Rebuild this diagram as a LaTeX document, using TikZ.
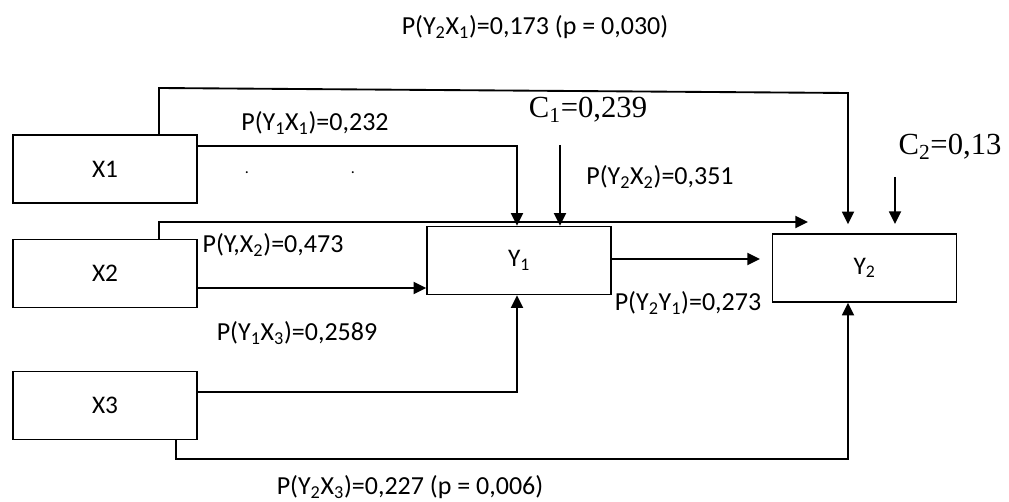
\documentclass[tikz,border=0pt]{standalone}
\usepackage{fontspec}
\setmainfont{Carlito}
\newfontfamily\tnr{Liberation Serif}
\usetikzlibrary{arrows.meta}
\begin{document}
\begin{tikzpicture}[x=0.75pt,y=-0.75pt,
  lab/.style={font=\fontsize{19.5}{21}\selectfont, inner sep=0pt},
  cval/.style={font=\tnr\fontsize{23}{25}\selectfont, inner sep=0pt},
  box/.style={draw, line width=1.2pt, minimum width=138pt, minimum height=51pt, inner sep=0pt, font=\fontsize{19}{21}\selectfont, fill=white},
  conn/.style={line width=1.4pt, -{Triangle[length=9.5pt,width=9pt]}},
  line/.style={line width=1.4pt}]
\useasboundingbox (0,0) rectangle (1009,502);
% boxes
\node[box] (X1) at (105,169) {X1};
\node[box] (X2) at (105,273.5) {X2};
\node[box] (X3) at (105,405.5) {X3};
\node[box] (Y1) at (519,260.5) {Y\textsubscript{1}};
\node[box] (Y2) at (864.5,268) {Y\textsubscript{2}};
% helper coordinates
\coordinate (t1) at (159,88);
\coordinate (t2) at (848,93);
\coordinate (u1) at (159,222);
\coordinate (u2) at (808,222);
\coordinate (c1s) at (560,145);
\coordinate (c2s) at (895,177);
\coordinate (c2e) at (895,224);
\coordinate (y2in) at (760,259);
\coordinate (b1) at (176,459);
% connectors
\draw[conn] (X1.north -| t1) -- (t1) -- (t2) -- ([yshift=6.75pt]Y2.north -| t2);
\draw[conn] (X1.east |- 0,146) -| (Y1.north -| 517,0);
\draw[conn] (c1s) -- (Y1.north -| c1s);
\draw[conn] (X2.north -| u1) -- (u1) -- (u2);
\draw[conn] (X2.east |- 0,288) -- (Y1.west |- 0,288);
\draw[conn] (Y1.east |- y2in) -- (y2in);
\draw[conn] (X3.east |- 0,392) -| (Y1.south -| 517,0);
\draw[conn] (X3.south -| b1) -- (b1) -| (Y2.south -| 848,0);
\draw[conn] (c2s) -- (c2e);
% labels
\node[lab] (l1) at (535,27) {P(Y\textsubscript{2}X\textsubscript{1})=0,173 (p = 0,030)};
\node[lab] (l2) at (315,123) {P(Y\textsubscript{1}X\textsubscript{1})=0,232};
\node[cval] (l3) at (588,110) {C\textsubscript{1}=0,239};
\node[lab] (l4) at (660,177) {P(Y\textsubscript{2}X\textsubscript{2})=0,351};
\node[cval] (l5) at (950,147) {C\textsubscript{2}=0,13};
\node[lab] (l6) at (273,245) {P(Y,X\textsubscript{2})=0,473};
\node[lab] (l7) at (688,303) {P(Y\textsubscript{2}Y\textsubscript{1})=0,273};
\node[lab] (l8) at (297,333) {P(Y\textsubscript{1}X\textsubscript{3})=0,2589};
\node[lab] (l9) at (410,487) {P(Y\textsubscript{2}X\textsubscript{3})=0,227 (p = 0,006)};
\node[font=\fontsize{12}{12}\selectfont, inner sep=0pt] (d1) at (247,173) {.};
\node[font=\fontsize{12}{12}\selectfont, inner sep=0pt] (d2) at (353,173) {.};
\end{tikzpicture}
\end{document}
